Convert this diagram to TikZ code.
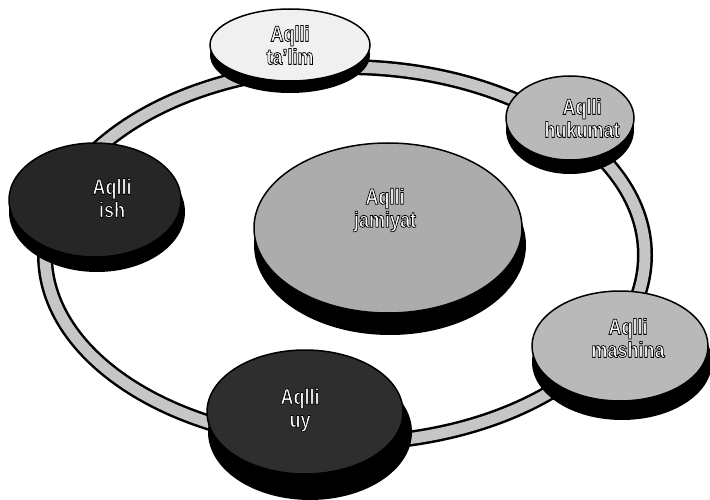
\documentclass[tikz,border=0pt]{standalone}
\usepackage{fontspec}
\setmainfont{Liberation Sans}
\newcommand\cond[1]{\scalebox{0.82}[1]{\special{pdf:literal direct 2 Tr 0.8 w 0 G}#1\special{pdf:literal direct 0 Tr}}}
\begin{document}
\begin{tikzpicture}[x=1pt,y=-1pt,
  lbl/.style={font=\bfseries\fontsize{22}{23}\selectfont, text=white, align=center, inner sep=0pt},
  face/.style={draw=black, line width=1.5pt},
  side/.style={fill=black}]
\useasboundingbox (0,0) rectangle (710,500);
% ring
\draw[line width=16pt, black] (345,255) ellipse [x radius=300, y radius=188];
\draw[line width=11pt, gray!45] (345,255) ellipse [x radius=300, y radius=188];
% ta'lim
\fill[side] (290,55) ellipse [x radius=80, y radius=38];
\draw[face, fill=gray!12] (290,45) ellipse [x radius=80, y radius=36];
\node[lbl] (talim) at (290,45) {\cond{Aqlli}\\\cond{ta'lim}};
% hukumat
\fill[side] (570,130) ellipse [x radius=64, y radius=44];
\draw[face, fill=gray!55] (570,118) ellipse [x radius=64, y radius=42];
\node[lbl] (hukumat) at (582,118) {\cond{Aqlli}\\\cond{hukumat}};
% ish
\fill[side] (97,212) ellipse [x radius=88, y radius=60];
\draw[face, fill=black!85] (95,200) ellipse [x radius=86, y radius=57];
\node[lbl] (ish) at (112,198) {\cond{Aqlli}\\\cond{ish}};
% jamiyat
\fill[side] (390,245) ellipse [x radius=136, y radius=90];
\draw[face, fill=gray!65] (388,228) ellipse [x radius=134, y radius=85];
\node[lbl] (jamiyat) at (385,210) {\cond{Aqlli}\\\cond{jamiyat}};
% mashina
\fill[side] (622,362) ellipse [x radius=90, y radius=58];
\draw[face, fill=gray!55] (620,346) ellipse [x radius=88, y radius=55];
\node[lbl] (mashina) at (628,338) {\cond{Aqlli}\\\cond{mashina}};
% uy
\fill[side] (310,432) ellipse [x radius=102, y radius=68];
\draw[face, fill=black!82] (305,412) ellipse [x radius=98, y radius=62];
\node[lbl] (uy) at (300,410) {\cond{Aqlli}\\\cond{uy}};
\end{tikzpicture}
\end{document}
